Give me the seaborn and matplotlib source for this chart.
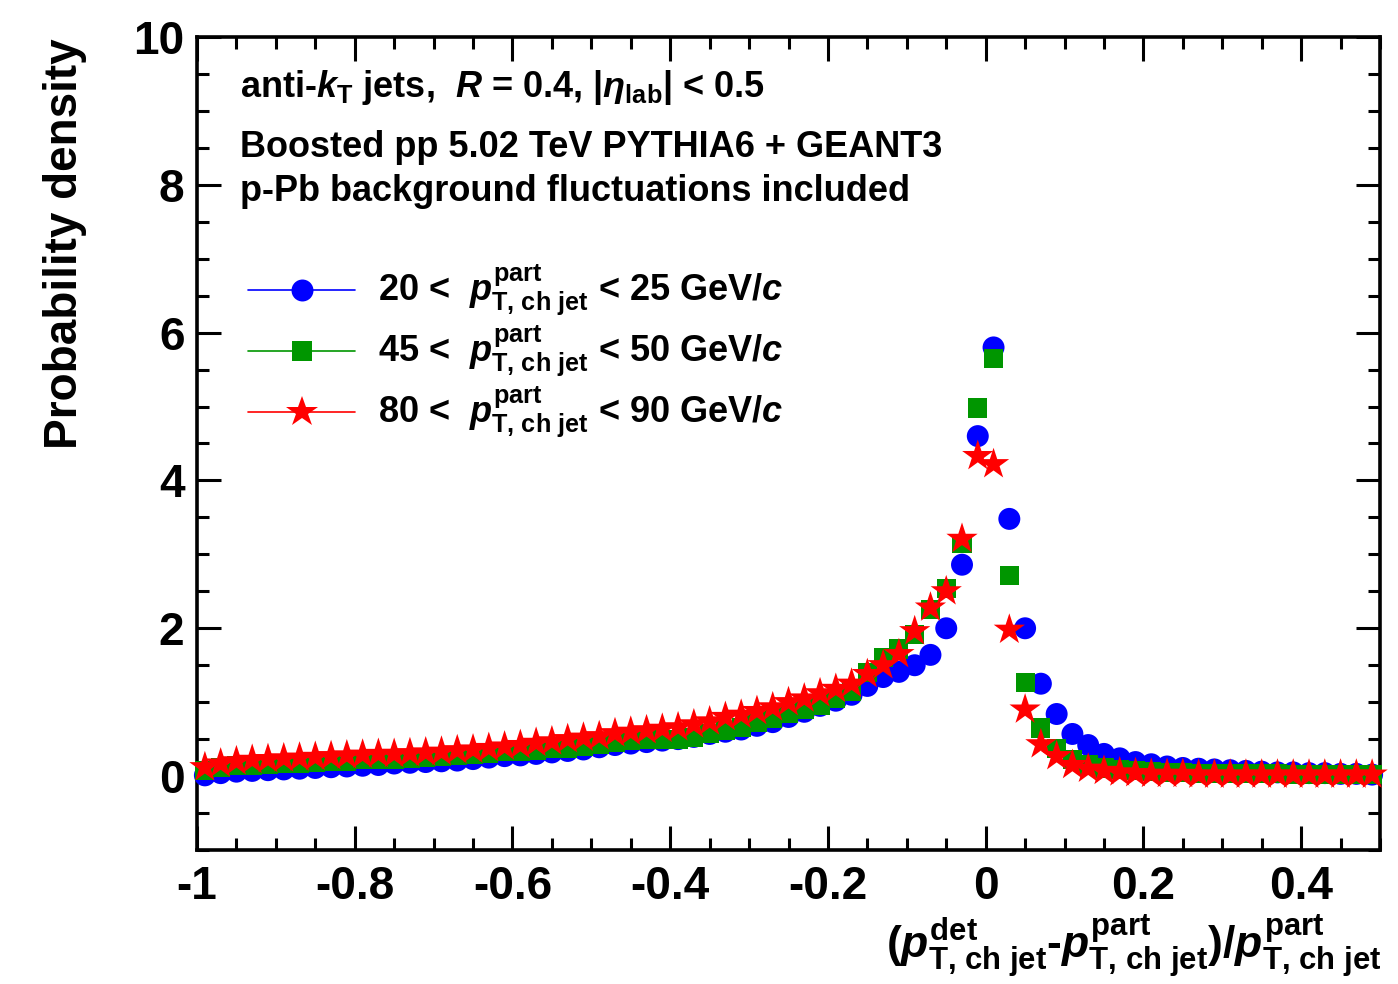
import numpy as np
import pandas as pd
import matplotlib
matplotlib.use("Agg")
import matplotlib.pyplot as plt
from matplotlib.ticker import MultipleLocator, FuncFormatter
from matplotlib.lines import Line2D
import seaborn as sns

# ---------------- data ----------------
bin_centers = np.round(np.linspace(-0.99, 0.49, 75), 2)

blue_20_25 = [0.01, 0.04, 0.06, 0.07, 0.08, 0.09, 0.10, 0.11, 0.12, 0.13,
              0.14, 0.15, 0.17, 0.18, 0.19, 0.20, 0.21, 0.23, 0.25, 0.27,
              0.28, 0.30, 0.32, 0.34, 0.36, 0.39, 0.42, 0.44, 0.46, 0.48,
              0.50, 0.53, 0.57, 0.60, 0.63, 0.68, 0.73, 0.80, 0.87, 0.95,
              1.02, 1.10, 1.22, 1.34, 1.41, 1.50, 1.64, 2.00, 2.86, 4.60,
              5.80, 3.48, 2.00, 1.25, 0.84, 0.57, 0.42, 0.30, 0.24, 0.19,
              0.16, 0.13, 0.11, 0.10, 0.09, 0.08, 0.07, 0.06, 0.05, 0.05,
              0.04, 0.04, 0.03, 0.03, 0.02]

green_45_50 = [0.08, 0.12, 0.14, 0.15, 0.16, 0.17, 0.17, 0.19, 0.20, 0.20,
               0.22, 0.22, 0.23, 0.24, 0.25, 0.27, 0.28, 0.29, 0.30, 0.33,
               0.34, 0.35, 0.37, 0.38, 0.40, 0.43, 0.46, 0.48, 0.50, 0.50,
               0.49, 0.52, 0.58, 0.62, 0.66, 0.72, 0.78, 0.85, 0.90, 0.95,
               1.05, 1.15, 1.40, 1.60, 1.72, 1.91, 2.25, 2.54, 3.15, 4.98,
               5.65, 2.71, 1.27, 0.65, 0.37, 0.23, 0.15, 0.11, 0.09, 0.07,
               0.06, 0.05, 0.05, 0.04, 0.04, 0.03, 0.03, 0.03, 0.03, 0.02,
               0.02, 0.02, 0.02, 0.02, 0.02]

red_80_90 = [0.12, 0.17, 0.20, 0.22, 0.23, 0.24, 0.25, 0.26, 0.27, 0.28,
             0.29, 0.30, 0.30, 0.31, 0.32, 0.33, 0.35, 0.36, 0.38, 0.40,
             0.42, 0.45, 0.47, 0.50, 0.52, 0.54, 0.58, 0.60, 0.62, 0.64,
             0.66, 0.70, 0.74, 0.80, 0.83, 0.88, 0.93, 1.00, 1.05, 1.12,
             1.18, 1.25, 1.38, 1.50, 1.65, 1.96, 2.28, 2.50, 3.21, 4.33,
             4.22, 1.98, 0.90, 0.43, 0.27, 0.15, 0.10, 0.07, 0.05, 0.04,
             0.03, 0.03, 0.03, 0.02, 0.02, 0.02, 0.02, 0.02, 0.02, 0.02,
             0.02, 0.02, 0.02, 0.02, 0.02]

series_labels = [
    r"20 <  $p^{\rm part}_{\text{T, ch jet}}$ < 25 GeV/$c$",
    r"45 <  $p^{\rm part}_{\text{T, ch jet}}$ < 50 GeV/$c$",
    r"80 <  $p^{\rm part}_{\text{T, ch jet}}$ < 90 GeV/$c$",
]
x_ticks = [-1, -0.8, -0.6, -0.4, -0.2, 0, 0.2, 0.4]
y_ticks = [0, 2, 4, 6, 8, 10]

# ---------------- style ----------------
sns.set_style("white")
plt.rcParams["font.family"] = ["Liberation Sans", "DejaVu Sans"]
plt.rcParams["font.weight"] = "bold"
plt.rcParams["text.color"] = "black"
plt.rcParams["axes.labelcolor"] = "black"
plt.rcParams["xtick.color"] = "black"
plt.rcParams["ytick.color"] = "black"
plt.rcParams["xtick.labelcolor"] = "black"
plt.rcParams["ytick.labelcolor"] = "black"
plt.rcParams["mathtext.fontset"] = "custom"
plt.rcParams["mathtext.rm"] = "Liberation Sans:bold"
plt.rcParams["mathtext.bf"] = "Liberation Sans:bold"
plt.rcParams["mathtext.it"] = "Liberation Sans:italic:bold"
plt.rcParams["mathtext.sf"] = "Liberation Sans:bold"

colors = ["#0000ff", "#009600", "#ff0000"]
markers = ["o", "s", "*"]
sizes = [250, 190, 560]

fig = plt.figure(figsize=(13.98, 9.84), dpi=100)
L, R, T, B = 197, 1380, 37, 850
ax = fig.add_axes([L / 1398, 1 - B / 984, (R - L) / 1398, (B - T) / 984])

data = pd.DataFrame({
    "x": np.tile(bin_centers, 3),
    "y": blue_20_25 + green_45_50 + red_80_90,
    "series": np.repeat(series_labels, len(bin_centers)),
})

for lab, c, m, s in zip(series_labels, colors, markers, sizes):
    sub = data[data["series"] == lab]
    sns.scatterplot(data=sub, x="x", y="y", marker=m, s=s, color=c,
                    edgecolor="none", linewidth=0, ax=ax, clip_on=False,
                    legend=False, zorder=3)

ax.set_xlim(-1, 0.5)
ax.set_ylim(-1, 10)
ax.set_xlabel("")
ax.set_ylabel("")
ax.set_xticks(x_ticks)
ax.set_yticks(y_ticks)
ax.xaxis.set_minor_locator(MultipleLocator(0.05))
ax.yaxis.set_minor_locator(MultipleLocator(0.5))
fmt = FuncFormatter(lambda v, p: "%g" % v)
ax.xaxis.set_major_formatter(fmt)
ax.yaxis.set_major_formatter(fmt)
for sp in ax.spines.values():
    sp.set_linewidth(2.6)
    sp.set_color("black")
    sp.set_visible(True)
ax.tick_params(which="both", direction="in", top=True, right=True,
               bottom=True, left=True, width=2.2, color="black")
ax.tick_params(which="major", length=17)
ax.tick_params(which="minor", length=8.5)
ax.tick_params(axis="x", which="major", labelsize=33, pad=11, labelcolor="black")
ax.tick_params(axis="y", which="major", labelsize=33, pad=9, labelcolor="black")
for t in ax.get_xticklabels() + ax.get_yticklabels():
    t.set_fontweight("bold")

# ---------------- texts ----------------
fig.text(65 / 1398, 1 - 38 / 984, "Probability density", rotation=90,
         ha="center", va="top", fontsize=33, fontweight="bold", color="black")
fig.text(1381 / 1398, 1 - 912 / 984,
         r"($p^{\rm det}_{\text{T, ch jet}}$-$p^{\rm part}_{\text{T, ch jet}}$)/$p^{\rm part}_{\text{T, ch jet}}$",
         ha="right", va="top", fontsize=32, fontweight="bold", color="black")

tx = 240 / 1398
fig.text(tx, 1 - 97 / 984,
         r"anti-$k_{\rm T}$ jets,  $R$ = 0.4, |$\eta_{\rm lab}$| < 0.5",
         ha="left", va="baseline", fontsize=26, fontweight="bold", color="black")
fig.text(tx, 1 - 157 / 984, "Boosted pp 5.02 TeV PYTHIA6 + GEANT3",
         ha="left", va="baseline", fontsize=26, fontweight="bold", color="black")
fig.text(tx, 1 - 201 / 984, "p-Pb background fluctuations included",
         ha="left", va="baseline", fontsize=26, fontweight="bold", color="black")

# ---------------- legend ----------------
leg_rows = [290, 351, 412]
for yy, lab, c, m, s in zip(leg_rows, series_labels, colors, markers, sizes):
    yf = 1 - yy / 984
    fig.add_artist(Line2D([248 / 1398, 355 / 1398], [yf, yf], color=c,
                          lw=1.2, transform=fig.transFigure))
    fig.add_artist(Line2D([302 / 1398], [yf], color=c, marker=m,
                          markersize=np.sqrt(s), markeredgewidth=0,
                          linestyle="none", transform=fig.transFigure))
    fig.text(378 / 1398, yf, lab, ha="left", va="center", fontsize=26,
             fontweight="bold", color="black")

fig.savefig("out.png", dpi=100)
